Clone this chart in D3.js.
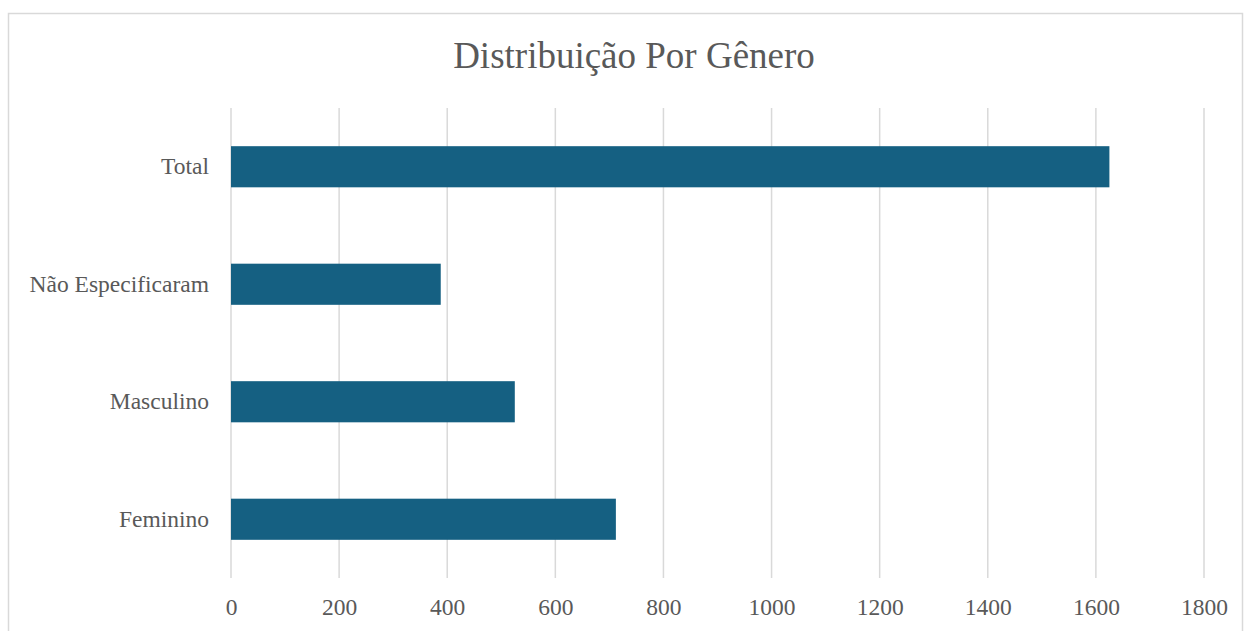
<!DOCTYPE html>
<html>
<head>
<meta charset="utf-8">
<script src="https://cdn.jsdelivr.net/npm/d3@7"></script>
<style>
  body { margin: 0; background: #fff; }
  svg { display: block; }
  svg text { font-family: "Times New Roman", "Liberation Serif", Times, serif; fill: #595959; }
</style>
</head>
<body>
<div id="chart"></div>
<script>
const title = "Distribuição Por Gênero";
const categories = ["Total", "Não Especificaram", "Masculino", "Feminino"];
const values = [1625, 388, 525, 712];
const xTicks = [0, 200, 400, 600, 800, 1000, 1200, 1400, 1600, 1800];

const width = 1245, height = 631;
const margin = { top: 108, right: 41, bottom: 53, left: 231 };

const svg = d3.select("#chart").append("svg")
    .attr("width", width)
    .attr("height", height);

// Chart frame
svg.append("rect")
    .attr("x", 8.5)
    .attr("y", 13.5)
    .attr("width", 1234)
    .attr("height", 640)
    .attr("fill", "none")
    .attr("stroke", "#d9d9d9")
    .attr("stroke-width", 1.5);

// Title
svg.append("text")
    .attr("x", 634)
    .attr("y", 68)
    .attr("text-anchor", "middle")
    .style("font-size", "37px")
    .text(title);

const x = d3.scaleLinear()
    .domain([0, 1800])
    .range([margin.left, width - margin.right]);

const y = d3.scaleBand()
    .domain(categories)
    .range([margin.top, height - margin.bottom])
    .paddingInner(0.65)
    .paddingOuter(0.325);

// Gridlines
svg.append("g")
    .selectAll("line")
    .data(xTicks)
    .enter().append("line")
    .attr("x1", d => x(d))
    .attr("x2", d => x(d))
    .attr("y1", margin.top)
    .attr("y2", height - margin.bottom)
    .attr("stroke", "#d9d9d9")
    .attr("stroke-width", 1.5);

// Bars
svg.append("g")
    .selectAll("rect")
    .data(categories)
    .enter().append("rect")
    .attr("x", x(0))
    .attr("y", d => y(d))
    .attr("width", (d, i) => x(values[i]) - x(0))
    .attr("height", y.bandwidth())
    .attr("fill", "#156082");

// X axis labels
const xAxis = svg.append("g")
    .attr("transform", `translate(0,${height - margin.bottom})`)
    .call(d3.axisBottom(x).tickValues(xTicks).tickFormat(d3.format("d")).tickSize(0).tickPadding(20));
xAxis.select(".domain").remove();
xAxis.selectAll("text").style("font-size", "23.5px");

// Y axis labels
const yAxis = svg.append("g")
    .attr("transform", `translate(${margin.left},0)`)
    .call(d3.axisLeft(y).tickSize(0).tickPadding(22));
yAxis.select(".domain").remove();
yAxis.selectAll("text").style("font-size", "23.5px");
</script>
</body>
</html>
